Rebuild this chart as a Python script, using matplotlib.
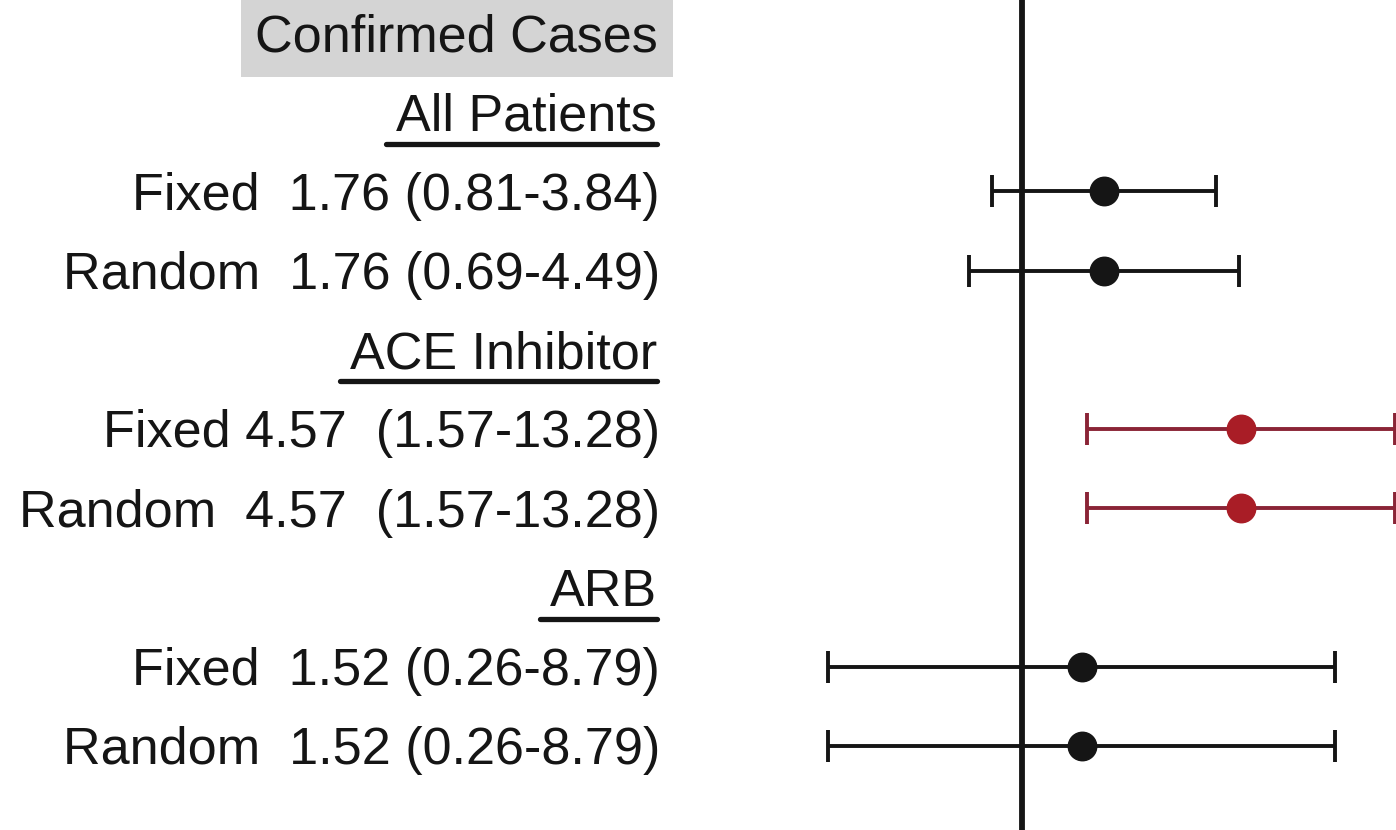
import matplotlib
matplotlib.use('Agg')
import matplotlib.pyplot as plt
import matplotlib.transforms as mtransforms
from matplotlib.lines import Line2D

plt.rcParams['font.family'] = ['Liberation Sans', 'DejaVu Sans']

# pooled odds ratios, one per estimate row
row_pos = [2, 3, 5, 6, 8, 9]
row_labels = ['Fixed  1.76 (0.81-3.84)',
              'Random  1.76 (0.69-4.49)',
              'Fixed 4.57  (1.57-13.28)',
              'Random  4.57  (1.57-13.28)',
              'Fixed  1.52 (0.26-8.79)',
              'Random  1.52 (0.26-8.79)']
or_est = [1.76, 1.76, 4.57, 4.57, 1.52, 1.52]
ci_low = [0.81, 0.69, 1.57, 1.57, 0.26, 0.26]
ci_high = [3.84, 4.49, 13.28, 13.28, 8.79, 8.79]
is_signif = [False, False, True, True, False, False]

# group headings
title = 'Confirmed Cases'
group_pos = [1, 4, 7]
group_names = ['All Patients', 'ACE Inhibitor', 'ARB']

dark = '#151515'
red_line = '#8a2436'
red_dot = '#a91d26'
fs = 37.5
dy = 0.06  # nudge text so caps sit centred on the row

fig = plt.figure(figsize=(13.96, 8.3), dpi=100)
ax = fig.add_axes([0.5, 0.0, 0.5, 1.0])
ax.set_xscale('log')
ax.set_xlim(0.1057, 13.38)
ax.set_ylim(10.06, -0.417)
ax.axis('off')

ax.axvline(1, color=dark, lw=4.2, zorder=1)

for y, m, lo, hi, sig in zip(row_pos, or_est, ci_low, ci_high, is_signif):
    lc = red_line if sig else dark
    mc = red_dot if sig else dark
    ax.errorbar([m], [y], xerr=[[m - lo], [hi - m]], fmt='o', color=mc,
                ecolor=lc, elinewidth=2.8, capsize=11.5, capthick=2.8,
                markersize=20.5, zorder=3)

# text column to the left of the plot
tr = mtransforms.blended_transform_factory(fig.transFigure, ax.transData)
txt_x = 660 / 1396

ax.text(txt_x - 2 / 1396, dy, title, transform=tr, ha='right', va='center',
        fontsize=fs, color=dark, clip_on=False,
        bbox=dict(boxstyle='square,pad=0.28', fc='#d4d4d4', ec='none'))

for y, s in zip(row_pos, row_labels):
    ax.text(txt_x, y + dy, s, transform=tr, ha='right', va='center',
            fontsize=fs, color=dark, clip_on=False)

heads = []
for y, s in zip(group_pos, group_names):
    heads.append(ax.text(txt_x - 3 / 1396, y + dy, s, transform=tr,
                         ha='right', va='center', fontsize=fs, color=dark,
                         clip_on=False))

# underline the group headings
fig.canvas.draw()
inv = fig.transFigure.inverted()
for t in heads:
    bb = t.get_window_extent()
    (x0, y0), (x1, _) = inv.transform([(bb.x0 - 10, bb.y0 - 2), (bb.x1, bb.y0)])
    fig.add_artist(Line2D([x0, x1], [y0, y0], color=dark, lw=3.8,
                          solid_capstyle='round'))

fig.savefig('out.png', dpi=100)
